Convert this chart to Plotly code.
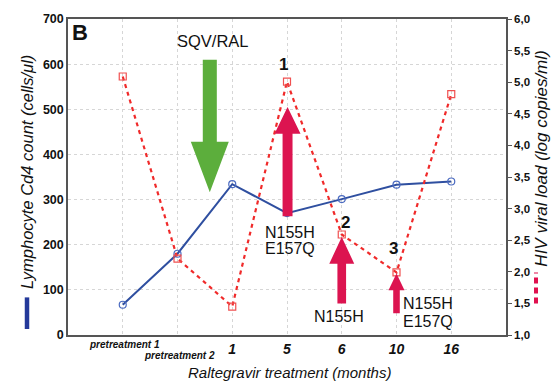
import plotly.graph_objects as go

# ---- data ----
categories = ["pretreatment 1", "pretreatment 2", "1", "5", "6", "10", "16"]
cd4_counts = [67, 180, 334, 270, 301, 333, 340]
viral_load = [5.09, 2.21, 1.45, 5.01, 2.59, 1.99, 4.81]
left_ticks = [0, 100, 200, 300, 400, 500, 600, 700]
right_ticks = [1.0, 1.5, 2.0, 2.5, 3.0, 3.5, 4.0, 4.5, 5.0, 5.5, 6.0]
right_tick_text = ["1,0", "1,5", "2,0", "2,5", "3,0", "3,5", "4,0", "4,5", "5,0", "5,5", "6,0"]

xi = list(range(len(categories)))
FONT = "Liberation Sans, Arial, sans-serif"
BLUE = "#2f4fa0"
RED = "#f02a2a"
CRIMSON = "#dc1450"
GREEN = "#5cae3c"

fig = go.Figure()
fig.add_trace(go.Scatter(
    x=xi, y=cd4_counts, mode="lines+markers", yaxis="y",
    line=dict(color=BLUE, width=2),
    marker=dict(symbol="circle-open", size=7, color="#4a6ac0", line=dict(width=1.2)),
    showlegend=False))
fig.add_trace(go.Scatter(
    x=xi, y=viral_load, mode="lines+markers", yaxis="y2",
    line=dict(color=RED, width=2.2, dash="4px,4px"),
    marker=dict(symbol="square-open", size=7, color="#f05050", line=dict(width=1.2)),
    showlegend=False))


def arrow(xc, y_end, y_base, y_tip, shaft_hw, head_hw, color):
    p = (f"M {xc - shaft_hw} {y_end} L {xc - shaft_hw} {y_base} L {xc - head_hw} {y_base} "
         f"L {xc} {y_tip} L {xc + head_hw} {y_base} L {xc + shaft_hw} {y_base} "
         f"L {xc + shaft_hw} {y_end} Z")
    return dict(type="path", xref="x", yref="y", path=p, fillcolor=color,
                line=dict(width=0), layer="above")


shapes = [
    arrow(1.59, 610, 428, 316, 0.128, 0.347, GREEN),
    arrow(3.01, 263, 446, 505, 0.091, 0.237, CRIMSON),
    arrow(4.0, 70, 158, 217, 0.079, 0.228, CRIMSON),
    arrow(5.0, 48, 99, 136, 0.06, 0.146, CRIMSON),
    # legend bars beside axis titles
    dict(type="line", xref="paper", yref="paper", x0=-0.0936, x1=-0.0936, y0=0.019, y1=0.119,
         line=dict(color="#24399a", width=4.5)),
    dict(type="line", xref="paper", yref="paper", x0=1.0685, x1=1.0685, y0=0.10, y1=0.1975,
         line=dict(color="#e0104e", width=4, dash="6px,4px")),
]

ann = []
def txt(x, y, t, size, xref="x", yref="y", **kw):
    d = dict(x=x, y=y, xref=xref, yref=yref, text=t, showarrow=False,
             xanchor="center", yanchor="middle",
             font=dict(family=FONT, size=size, color="#111"))
    d.update(kw)
    ann.append(d)

txt(-0.773, 670, "<b>B</b>", 22)
txt(1.644, 652, "SQV/RAL", 16.5)
txt(2.94, 599, "<b>1</b>", 17)
txt(4.07, 250, "<b>2</b>", 17)
txt(4.95, 191, "<b>3</b>", 17)
txt(3.06, 228, "N155H", 16)
txt(3.06, 191, "E157Q", 16)
txt(3.945, 42, "N155H", 16)
txt(5.08, 69, "N155H", 16, xanchor="left")
txt(5.08, 31, "E157Q", 16, xanchor="left")
# x tick labels for pretreatment (staggered)
txt(0.04, -0.03, "<b><i>pretreatment 1</i></b>", 10, yref="paper")
txt(1.04, -0.066, "<b><i>pretreatment 2</i></b>", 10, yref="paper")
# axis titles
txt(0.505, -0.12, "<i>Raltegravir treatment (months)</i>", 15, yref="paper", xref="paper")
txt(-0.0936, 0.5157, "<i>Lymphocyte Cd4 count (cells/\u03bcl)</i>", 16.5, xref="paper", yref="paper",
    textangle=-90)
txt(1.081, 0.5596, "<i>HIV viral load (log copies/ml)</i>", 17, xref="paper", yref="paper",
    textangle=-90)

fig.update_layout(
    width=552, height=384,
    margin=dict(l=68, r=46, t=16, b=49),
    paper_bgcolor="white", plot_bgcolor="white",
    font=dict(family=FONT, color="#111"),
    shapes=shapes, annotations=ann,
    xaxis=dict(range=[-1, 7], tickvals=xi,
               ticktext=["", ""] + [f"<b><i>{c}</i></b>" for c in categories[2:]],
               tickfont=dict(size=14, family=FONT, color="#111"),
               showgrid=True, gridcolor="#d6d6d6", griddash="dot", gridwidth=1,
               showline=True, linecolor="#555", linewidth=1.5, mirror=True,
               ticks="", zeroline=False),
    yaxis=dict(range=[0, 700], tickvals=left_ticks,
               ticktext=[f"<b>{v}</b>" for v in left_ticks],
               tickfont=dict(size=12.5, family=FONT, color="#111"),
               showgrid=True, gridcolor="#d6d6d6", griddash="dot", gridwidth=1,
               showline=True, linecolor="#555", linewidth=1.5, mirror=True,
               ticks="", zeroline=False),
    yaxis2=dict(range=[1, 6], overlaying="y", side="right", tickvals=right_ticks,
                ticktext=[f"<b>{t}</b>" for t in right_tick_text],
                tickfont=dict(size=11.5, family=FONT, color="#111"),
                showgrid=False, showline=True, linecolor="#555", linewidth=1.5,
                ticks="outside", ticklen=4, tickcolor="#555", zeroline=False),
)

fig.write_html("out.html")
